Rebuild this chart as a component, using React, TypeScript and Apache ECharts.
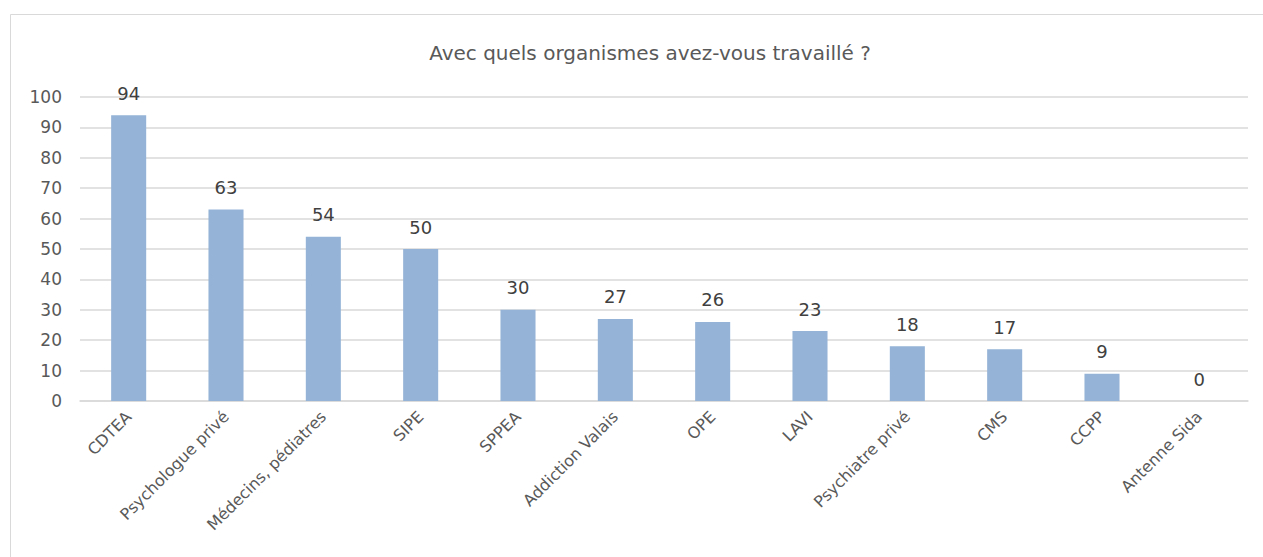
import React, { useEffect, useRef } from "react";
import * as echarts from "echarts";

const categories = [
  "CDTEA",
  "Psychologue privé",
  "Médecins, pédiatres",
  "SIPE",
  "SPPEA",
  "Addiction Valais",
  "OPE",
  "LAVI",
  "Psychiatre privé",
  "CMS",
  "CCPP",
  "Antenne Sida",
];
const values = [94, 63, 54, 50, 30, 27, 26, 23, 18, 17, 9, 0];
const titleText = "Avec quels organismes avez-vous travaillé ?";

const FONT = "'DejaVu Sans', sans-serif";

export default function App() {
  const ref = useRef<HTMLDivElement>(null);
  useEffect(() => {
    if (!ref.current) return;
    const chart = echarts.init(ref.current, undefined, { renderer: "svg" });
    chart.setOption({
      animation: false,
      backgroundColor: "#ffffff",
      title: {
        text: titleText,
        left: 645,
        top: 38,
        textAlign: "center",
        textStyle: { fontFamily: FONT, fontSize: 20, fontWeight: "normal", color: "#595959" },
      },
      graphic: [
        {
          type: "rect",
          shape: { x: 10.5, y: 14.5, width: 1300, height: 600 },
          style: { fill: "none", stroke: "#d9d9d9", lineWidth: 1 },
          silent: true,
        },
      ],
      grid: { left: 80, right: 15, top: 97, bottom: 156, containLabel: false },
      xAxis: {
        type: "category",
        data: categories,
        axisLine: { lineStyle: { color: "#d9d9d9", width: 1.5 } },
        axisTick: { show: false },
        axisLabel: {
          rotate: 45,
          interval: 0,
          margin: 13,
          fontFamily: FONT,
          fontSize: 16,
          color: "#595959",
        },
      },
      yAxis: {
        type: "value",
        min: 0,
        max: 100,
        interval: 10,
        axisLine: { show: false },
        axisTick: { show: false },
        splitLine: { lineStyle: { color: "#d9d9d9", width: 1.5 } },
        axisLabel: { fontFamily: FONT, fontSize: 17, color: "#595959", margin: 18 },
      },
      series: [
        {
          type: "bar",
          data: values,
          barWidth: "36%",
          itemStyle: { color: "#95b3d7" },
          label: {
            show: true,
            position: "top",
            distance: 13,
            fontFamily: FONT,
            fontSize: 18,
            color: "#404040",
          },
        },
      ],
    });
    return () => chart.dispose();
  }, []);
  return (
    <div
      ref={ref}
      style={{ position: "absolute", left: 0, top: 0, width: 1263, height: 557 }}
    />
  );
}
